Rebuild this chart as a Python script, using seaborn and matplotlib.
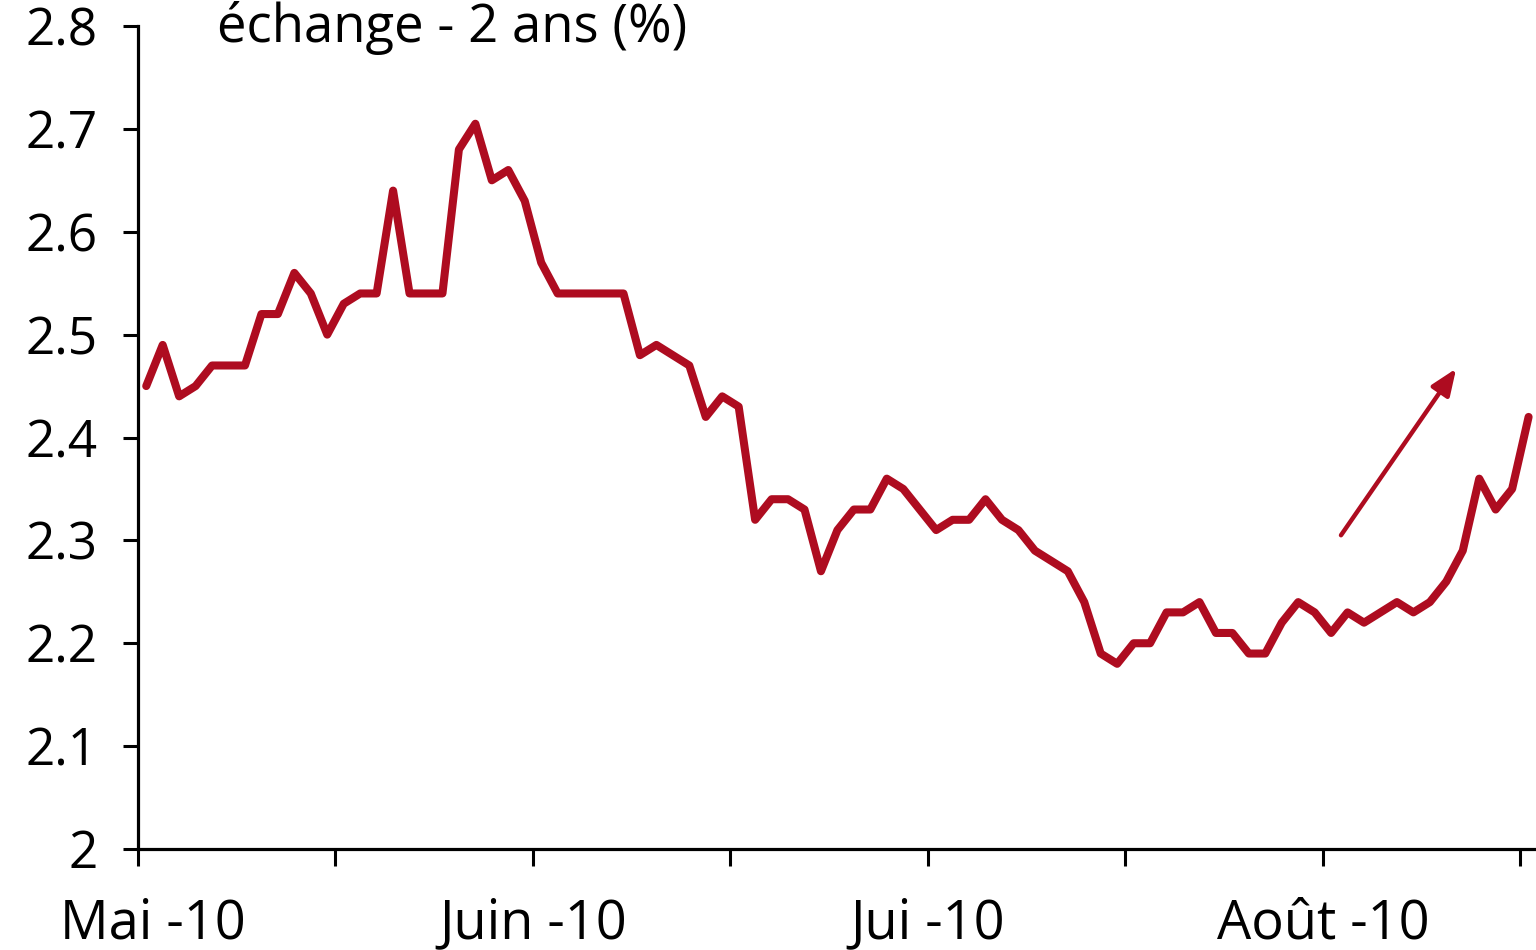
import matplotlib
matplotlib.use("Agg")
import matplotlib.pyplot as plt
import matplotlib.transforms as mtransforms
import seaborn as sns
import pandas as pd
import numpy as np

# ---- data -------------------------------------------------------------
swap_2y = [
    2.45, 2.49, 2.44, 2.45, 2.47, 2.47, 2.47, 2.52, 2.52, 2.56,
    2.54, 2.50, 2.53, 2.54, 2.54, 2.64, 2.54, 2.54, 2.54, 2.68,
    2.705, 2.65, 2.66, 2.63, 2.57, 2.54, 2.54, 2.54, 2.54, 2.54,
    2.48, 2.49, 2.48, 2.47, 2.42, 2.44, 2.43, 2.32, 2.34, 2.34,
    2.33, 2.27, 2.31, 2.33, 2.33, 2.36, 2.35, 2.33, 2.31, 2.32,
    2.32, 2.34, 2.32, 2.31, 2.29, 2.28, 2.27, 2.24, 2.19, 2.18,
    2.20, 2.20, 2.23, 2.23, 2.24, 2.21, 2.21, 2.19, 2.19, 2.22,
    2.24, 2.23, 2.21, 2.23, 2.22, 2.23, 2.24, 2.23, 2.24, 2.26,
    2.29, 2.36, 2.33, 2.35, 2.42,
]
month_labels = ["Mai -10", "", "Juin -10", "", "Jui -10", "", "Août -10", ""]
tick_step = 12          # observations between x-axis ticks
y_ticks = [2.0, 2.1, 2.2, 2.3, 2.4, 2.5, 2.6, 2.7, 2.8]
y_tick_labels = ["2", "2.1", "2.2", "2.3", "2.4", "2.5", "2.6", "2.7", "2.8"]
title = "échange - 2 ans (%)"
arrow_start = (72.6, 2.305)
arrow_end = (79.6, 2.467)

df = pd.DataFrame({"obs": np.arange(len(swap_2y)), "taux": swap_2y})

# ---- style ------------------------------------------------------------
sns.set_style("ticks")
plt.rcParams["font.family"] = ["Open Sans", "DejaVu Sans"]
plt.rcParams["text.color"] = "black"
red = "#AE0C20"

fig = plt.figure(figsize=(15.36, 9.5), dpi=100)
ax = fig.add_axes([138 / 1536, 1 - 849 / 950, 1 - 138 / 1536, (849 - 26) / 950])

sns.lineplot(data=df, x="obs", y="taux", ax=ax, color=red, linewidth=5.8,
             solid_joinstyle="round", solid_capstyle="round", clip_on=False)

ax.set_xlim(-0.5, 84.45)
ax.set_ylim(2.0, 2.8)
ax.set_yticks(y_ticks)
ax.set_yticklabels(y_tick_labels, fontsize=37, color="black")
xt = [-0.5 + tick_step * k for k in range(len(month_labels))]
ax.set_xticks(xt)
ax.set_xticklabels(month_labels, fontsize=39, color="black")
ax.set_xlabel("")
ax.set_ylabel("")

for s in ["top", "right"]:
    ax.spines[s].set_visible(False)
for s in ["left", "bottom"]:
    ax.spines[s].set_linewidth(2.3)
    ax.spines[s].set_color("black")
ax.tick_params(axis="y", direction="out", length=11, width=2.2, pad=18, colors="black")
ax.tick_params(axis="x", direction="out", length=12, width=2.2, pad=22, colors="black")

# nudge the first month label right, as in the original
first = ax.xaxis.get_major_ticks()[0].label1
first.set_transform(first.get_transform() +
                    mtransforms.ScaledTranslation(0.15, 0, fig.dpi_scale_trans))

ax.annotate("", xy=arrow_end, xytext=arrow_start,
            arrowprops=dict(arrowstyle="-|>,head_length=1.6,head_width=0.65",
                            color=red, lw=3.2, shrinkA=0, shrinkB=0,
                            capstyle="round"))

fig.text(217 / 1536, 1 - 28 / 950, title, fontsize=38, va="center", ha="left",
         color="black")

fig.savefig("out.png", dpi=100)
